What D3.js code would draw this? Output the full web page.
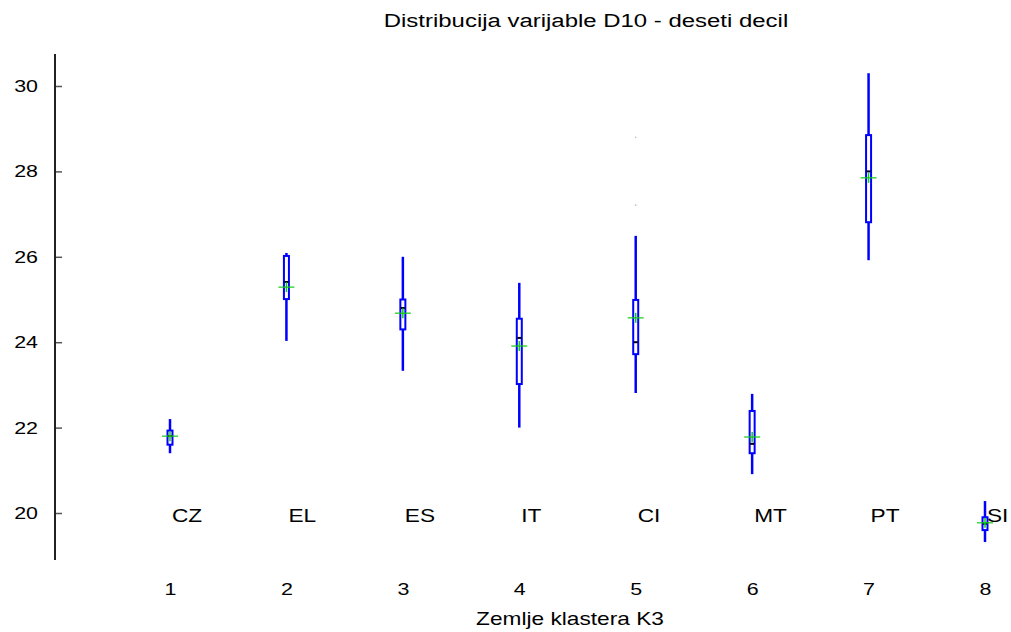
<!DOCTYPE html>
<html>
<head>
<meta charset="utf-8">
<script src="https://cdn.jsdelivr.net/npm/d3@7"></script>
<style>
  body { margin: 0; background: #fff; }
  text { font-family: "Liberation Sans", Arial, sans-serif; fill: #000; }
</style>
</head>
<body>
<div id="chart"></div>
<script>
// cluster K3 countries, one box per country
const groups = [1, 2, 3, 4, 5, 6, 7, 8];
const countries = ["CZ", "EL", "ES", "IT", "CI", "MT", "PT", "SI"];
const whiskerLow = [21.4, 24.03, 23.33, 22.0, 22.81, 20.91, 25.92, 19.32];
const boxLow = [21.6, 25.01, 24.3, 23.02, 23.72, 21.4, 26.81, 19.6];
const medians = [21.8, 25.41, 24.8, 24.1, 24.0, 21.62, 28.0, 19.75];
const boxHigh = [21.93, 26.02, 25.0, 24.55, 24.99, 22.39, 28.85, 19.9];
const whiskerHigh = [22.2, 26.09, 26.0, 25.39, 26.49, 22.79, 30.3, 20.28];
const means = [21.8, 25.29, 24.68, 23.91, 24.57, 21.78, 27.85, 19.77];
const outliers = [{ g: 5, v: 28.8 }, { g: 5, v: 27.21 }];
const yTicks = [20, 22, 24, 26, 28, 30];

const width = 1011, height = 632;
const stretch = 1.26; // text in the original is drawn wider than tall

const svg = d3.select("#chart").append("svg")
  .attr("width", width)
  .attr("height", height);

const x = d3.scaleLinear().domain([1, 8]).range([170, 985]);
const y = d3.scaleLinear().domain([20, 30]).range([513, 86]);

function wideText(sel, px, py) {
  return sel.attr("transform", `translate(${px},${py}) scale(${stretch},1)`);
}

// title
wideText(svg.append("text"), 586, 27)
  .attr("text-anchor", "middle")
  .style("font-size", "19px")
  .text("Distribucija varijable D10 - deseti decil");

// y axis
const yAxis = svg.append("g")
  .attr("transform", "translate(55,0)")
  .call(d3.axisRight(y).tickValues(yTicks).tickSize(7).tickFormat(d3.format("d")));
yAxis.select(".domain").remove();
yAxis.selectAll(".tick line").attr("stroke", "#555").attr("stroke-width", 1.5);
yAxis.selectAll(".tick text")
  .attr("x", 0).attr("text-anchor", "end")
  .attr("transform", `translate(-17,0) scale(${stretch},1)`)
  .style("font-size", "17px");
svg.append("line")
  .attr("x1", 55).attr("x2", 55)
  .attr("y1", y(30.75)).attr("y2", y(18.9))
  .attr("stroke", "#222").attr("stroke-width", 2);

// x tick labels (no axis line)
const xAxis = svg.append("g")
  .attr("transform", "translate(0,589)")
  .call(d3.axisBottom(x).tickValues(groups).tickSize(0).tickFormat(d3.format("d")));
xAxis.select(".domain").remove();
xAxis.selectAll(".tick text")
  .attr("dy", "0.35em").attr("y", 0)
  .attr("transform", `scale(${stretch},1)`)
  .style("font-size", "17px");

wideText(svg.append("text"), 570, 625)
  .attr("text-anchor", "middle")
  .style("font-size", "18px")
  .text("Zemlje klastera K3");

// country labels at the 20 level
svg.selectAll(".country")
  .data(groups)
  .enter()
  .append("text")
  .attr("class", "country")
  .attr("transform", (d) => `translate(${x(d) + 2},${y(20) + 9}) scale(${stretch},1)`)
  .style("font-size", "18px")
  .text((d, i) => countries[i]);

const boxes = svg.selectAll(".box")
  .data(groups)
  .enter()
  .append("g")
  .attr("class", "box");

// whiskers
boxes.append("line")
  .attr("x1", (d) => x(d)).attr("x2", (d) => x(d))
  .attr("y1", (d, i) => y(whiskerHigh[i]))
  .attr("y2", (d, i) => y(whiskerLow[i]))
  .attr("stroke", "#0000ff").attr("stroke-width", 2.5);

// box
boxes.append("rect")
  .attr("x", (d) => x(d) - 2.5)
  .attr("width", 5)
  .attr("y", (d, i) => y(boxHigh[i]))
  .attr("height", (d, i) => y(boxLow[i]) - y(boxHigh[i]))
  .attr("fill", "#fff")
  .attr("stroke", "#0000ff").attr("stroke-width", 2);

// median
boxes.append("line")
  .attr("x1", (d) => x(d) - 2).attr("x2", (d) => x(d) + 2)
  .attr("y1", (d, i) => y(medians[i]))
  .attr("y2", (d, i) => y(medians[i]))
  .attr("stroke", "#000").attr("stroke-width", 2);

// mean cross
boxes.append("line")
  .attr("x1", (d) => x(d) - 8).attr("x2", (d) => x(d) + 8)
  .attr("y1", (d, i) => y(means[i]))
  .attr("y2", (d, i) => y(means[i]))
  .attr("stroke", "#11cc11").attr("stroke-width", 1.2);
boxes.append("line")
  .attr("x1", (d) => x(d)).attr("x2", (d) => x(d))
  .attr("y1", (d, i) => y(means[i]) - 5)
  .attr("y2", (d, i) => y(means[i]) + 5)
  .attr("stroke", "#11cc11").attr("stroke-width", 1.5);

// outliers
svg.selectAll(".outlier")
  .data(outliers)
  .enter()
  .append("circle")
  .attr("cx", (d) => x(d.g))
  .attr("cy", (d) => y(d.v))
  .attr("r", 0.8)
  .attr("fill", "#bbb");
</script>
</body>
</html>
